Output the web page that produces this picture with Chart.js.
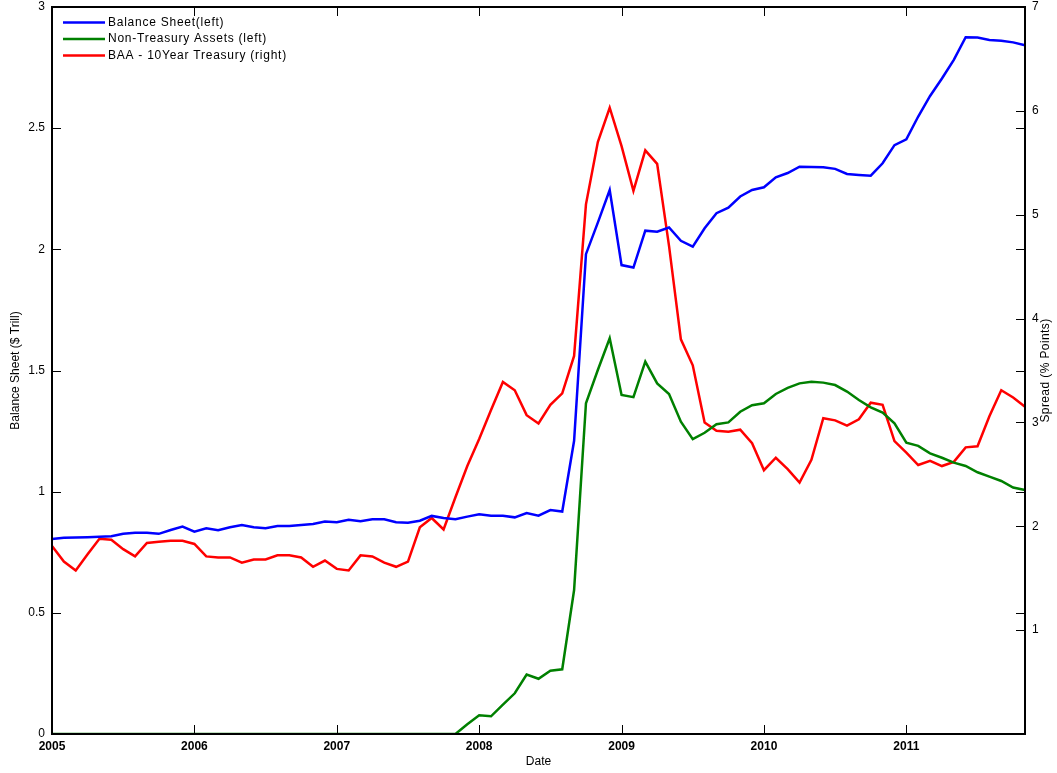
<!DOCTYPE html>
<html>
<head>
<meta charset="utf-8">
<script src="https://cdn.jsdelivr.net/npm/chart.js@4.4.1/dist/chart.umd.min.js"></script>
<style>
  body { margin: 0; background: #fff; }
  canvas { display: block; }
</style>
</head>
<body>
<canvas id="myChart" width="1057" height="773"></canvas>
<script>
'use strict';

// Data (monthly, Jan 2005 - Nov 2011)
let years = ['2005', '2006', '2007', '2008', '2009', '2010', '2011'];
let monthNumbers = ['01', '02', '03', '04', '05', '06', '07', '08', '09', '10', '11', '12'];

let balanceSheet = [
  0.805, 0.810, 0.811, 0.812, 0.814, 0.816, 0.826, 0.830, 0.830, 0.826, 0.842, 0.856,
  0.835, 0.849, 0.841, 0.853, 0.862, 0.853, 0.849, 0.858, 0.858, 0.862, 0.867, 0.877,
  0.874, 0.884, 0.878, 0.886, 0.886, 0.874, 0.872, 0.880, 0.900, 0.891, 0.886, 0.897,
  0.907, 0.901, 0.901, 0.894, 0.912, 0.901, 0.924, 0.918, 1.210, 1.980, 2.110, 2.245,
  1.935, 1.925, 2.077, 2.073, 2.090, 2.035, 2.011, 2.087, 2.149, 2.172, 2.218, 2.245,
  2.256, 2.297, 2.315, 2.341, 2.340, 2.339, 2.332, 2.311, 2.307, 2.304, 2.355, 2.430,
  2.454, 2.548, 2.633, 2.705, 2.782, 2.875, 2.874, 2.864, 2.861, 2.854, 2.842
];

let nonTreasury = [
  0, 0, 0, 0, 0, 0, 0, 0, 0, 0, 0, 0,
  0, 0, 0, 0, 0, 0, 0, 0, 0, 0, 0, 0,
  0, 0, 0, 0, 0, 0, 0, 0, 0, 0, 0, 0.040,
  0.077, 0.073, 0.121, 0.168, 0.245, 0.228, 0.261, 0.267, 0.594, 1.365, 1.502, 1.633,
  1.399, 1.390, 1.537, 1.447, 1.403, 1.289, 1.217, 1.243, 1.278, 1.286, 1.330, 1.357,
  1.365, 1.403, 1.428, 1.447, 1.454, 1.450, 1.440, 1.413, 1.378, 1.348, 1.326, 1.282,
  1.202, 1.189, 1.158, 1.140, 1.120, 1.106, 1.080, 1.062, 1.044, 1.017, 1.007
];

let spread = [
  1.81, 1.66, 1.575, 1.73, 1.88, 1.87, 1.78, 1.71, 1.84, 1.85, 1.86, 1.86,
  1.83, 1.71, 1.70, 1.70, 1.65, 1.68, 1.68, 1.72, 1.72, 1.70, 1.61, 1.67,
  1.59, 1.575, 1.72, 1.71, 1.65, 1.61, 1.66, 1.99, 2.08, 1.97, 2.28, 2.58,
  2.84, 3.12, 3.39, 3.31, 3.07, 2.99, 3.17, 3.28, 3.64, 5.10, 5.70, 6.03,
  5.66, 5.23, 5.62, 5.49, 4.70, 3.80, 3.55, 3.00, 2.92, 2.91, 2.93, 2.80,
  2.54, 2.66, 2.55, 2.42, 2.64, 3.04, 3.02, 2.97, 3.03, 3.19, 3.17, 2.82,
  2.71, 2.59, 2.63, 2.58, 2.62, 2.76, 2.77, 3.06, 3.31, 3.24, 3.15
];

let seriesNames = ['Balance Sheet(left)', 'Non-Treasury Assets (left)', 'BAA - 10Year Treasury (right)'];
let seriesColors = ['#0000ff', '#008000', '#ff0000'];
let rightTitle = 'Spread (% Points)';

// month labels like 2005-01
let months = [];
for (let y = 0; y < years.length; y++) {
  for (let m = 0; m < monthNumbers.length; m++) {
    months.push(years[y] + '-' + monthNumbers[m]);
  }
}
months = months.slice(0, balanceSheet.length);

let fontFamily = '"Liberation Sans", Arial, sans-serif';
Chart.defaults.font.family = fontFamily;
Chart.defaults.color = '#000';

// frame with inward ticks (matlab style), legend inside the plot, right title
const framePlugin = {
  id: 'frame',
  afterDraw(chart) {
    const ctx = chart.ctx;
    const area = chart.chartArea;
    const xScale = chart.scales.x;
    const yLeft = chart.scales.y;
    const yRight = chart.scales.y1;
    const tickLen = 9;

    ctx.save();
    ctx.strokeStyle = '#000';
    ctx.lineWidth = 1;
    ctx.beginPath();
    for (let i = 0; i < months.length; i++) {
      if (months[i].endsWith('-01')) {
        let px = Math.round(xScale.getPixelForValue(i)) + 0.5;
        ctx.moveTo(px, area.bottom);
        ctx.lineTo(px, area.bottom - tickLen);
        ctx.moveTo(px, area.top);
        ctx.lineTo(px, area.top + tickLen);
      }
    }
    yLeft.ticks.forEach(function(t) {
      let py = Math.round(yLeft.getPixelForValue(t.value)) + 0.5;
      ctx.moveTo(area.left, py);
      ctx.lineTo(area.left + tickLen, py);
      ctx.moveTo(area.right, py);
      ctx.lineTo(area.right - tickLen, py);
    });
    yRight.ticks.forEach(function(t) {
      let py = Math.round(yRight.getPixelForValue(t.value)) + 0.5;
      ctx.moveTo(area.right, py);
      ctx.lineTo(area.right - tickLen, py);
    });
    ctx.stroke();

    ctx.lineWidth = 2;
    ctx.strokeRect(area.left, area.top, area.right - area.left, area.bottom - area.top);

    // legend
    ctx.font = '12px ' + fontFamily;
    ctx.letterSpacing = '0.75px';
    ctx.textBaseline = 'middle';
    ctx.textAlign = 'left';
    chart.data.datasets.forEach(function(ds, i) {
      let ly = area.top + 15.5 + i * 16.5;
      ctx.strokeStyle = ds.borderColor;
      ctx.lineWidth = 2.5;
      ctx.beginPath();
      ctx.moveTo(area.left + 11, ly);
      ctx.lineTo(area.left + 53, ly);
      ctx.stroke();
      ctx.fillStyle = '#000';
      ctx.fillText(ds.label, area.left + 56, ly);
    });

    // right axis title, reading bottom to top like the left one
    ctx.letterSpacing = '0.4px';
    ctx.translate(area.right + 21, (area.top + area.bottom) / 2);
    ctx.rotate(-Math.PI / 2);
    ctx.textAlign = 'center';
    ctx.fillText(rightTitle, 0, 0);
    ctx.restore();
  }
};

function fixWidth(width) {
  return function(scale) {
    scale.width = width;
    scale.paddingTop = 0;
    scale.paddingBottom = 0;
  };
}

const ctx = document.getElementById('myChart');

const config = {
  type: 'line',
  data: {
    labels: months,
    datasets: [
      {
        label: seriesNames[0],
        data: balanceSheet,
        borderColor: seriesColors[0],
        yAxisID: 'y'
      },
      {
        label: seriesNames[1],
        data: nonTreasury,
        borderColor: seriesColors[1],
        yAxisID: 'y'
      },
      {
        label: seriesNames[2],
        data: spread,
        borderColor: seriesColors[2],
        yAxisID: 'y1'
      }
    ]
  },
  options: {
    responsive: false,
    animation: false,
    layout: { padding: { top: 7, right: 0, left: 0, bottom: 0 } },
    elements: {
      point: { radius: 0 },
      line: { borderWidth: 2.5, tension: 0, borderJoinStyle: 'miter' }
    },
    plugins: {
      legend: { display: false },
      tooltip: { enabled: false }
    },
    scales: {
      x: {
        type: 'category',
        offset: false,
        border: { display: false },
        grid: { display: false, drawTicks: false },
        ticks: {
          autoSkip: false,
          maxRotation: 0,
          padding: 5,
          font: { size: 12, weight: 'bold' },
          callback: function(value) {
            let label = this.getLabelForValue(value);
            return label.endsWith('-01') ? label.slice(0, 4) : null;
          }
        },
        title: {
          display: true,
          text: 'Date',
          font: { size: 12 },
          padding: { top: 0, bottom: 4 }
        },
        afterFit: function(scale) { scale.height = 39; }
      },
      y: {
        position: 'left',
        min: 0,
        max: 3,
        border: { display: false },
        grid: { display: false, drawTicks: false },
        ticks: {
          stepSize: 0.5,
          padding: 7,
          font: { size: 12 },
          callback: function(value) { return String(value); }
        },
        title: {
          display: true,
          text: 'Balance Sheet ($ Trill)',
          font: { size: 12 },
          padding: { top: 8, bottom: 0 }
        },
        afterFit: fixWidth(52)
      },
      y1: {
        position: 'right',
        min: 0,
        max: 7,
        border: { display: false },
        grid: { display: false, drawTicks: false },
        ticks: {
          stepSize: 1,
          padding: 7,
          font: { size: 12 },
          callback: function(value) { return value === 0 ? null : String(value); }
        },
        afterFit: fixWidth(32)
      }
    }
  },
  plugins: [framePlugin]
};

new Chart(ctx, config);
</script>
</body>
</html>
